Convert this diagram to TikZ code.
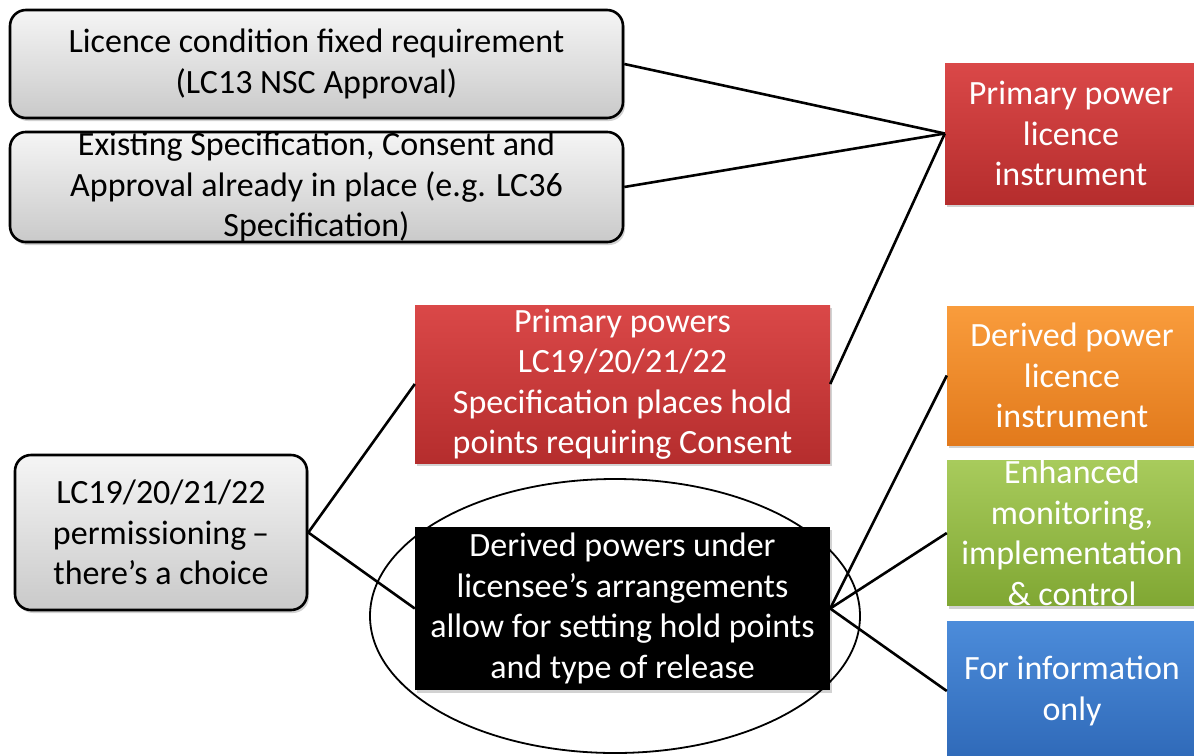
\documentclass[tikz,border=0pt]{standalone}
\usepackage{fontspec}
\setmainfont{Carlito}
\usetikzlibrary{shapes.geometric,shadows}
\definecolor{redtop}{HTML}{DA4848}
\definecolor{redbot}{HTML}{B52D2D}
\definecolor{orgtop}{HTML}{F99C3C}
\definecolor{orgbot}{HTML}{E27A1C}
\definecolor{grntop}{HTML}{A8CB5C}
\definecolor{grnbot}{HTML}{80A733}
\definecolor{blutop}{HTML}{4C8CDA}
\definecolor{blubot}{HTML}{2F69B8}
\newcommand{\nolig}{\kern0pt}
\tikzset{
  txt/.style={align=center, inner sep=0pt, font=\fontsize{34}{40.5}\selectfont},
  greybox/.style={txt, draw=black, line width=2.6pt, rounded corners=16pt,
    top color=gray!8, bottom color=gray!42,
    drop shadow={opacity=0.35, shadow xshift=2pt, shadow yshift=-3pt}},
  colbox/.style={txt, text=white,
    drop shadow={opacity=0.35, shadow xshift=2pt, shadow yshift=-3pt}},
  redbox/.style={colbox, top color=redtop, bottom color=redbot},
  orgbox/.style={colbox, top color=orgtop, bottom color=orgbot},
  grnbox/.style={colbox, top color=grntop, bottom color=grnbot},
  blubox/.style={colbox, top color=blutop, bottom color=blubot},
  blkbox/.style={colbox, fill=black},
  link/.style={line width=2.6pt, draw=black},
}
\begin{document}
\begin{tikzpicture}[x=1pt,y=-1pt]
\useasboundingbox (0,0) rectangle (1194,755);
\clip (0,0) rectangle (1194,755);
\fill[white] (0,0) rectangle (1194,755);
% left column
\node[greybox, minimum width=613pt, minimum height=108pt] (fixed) at (316.5,64)
  {Licence condition fixed requirement\\(LC13 NSC Approval)};
\node[greybox, minimum width=613pt, minimum height=110pt] (exist) at (316.5,187)
  {Existing Specifica\nolig tion, Consent and\\Approval already in place (e.g. LC36\\Specifica\nolig tion)};
\node[greybox, minimum width=292pt, minimum height=155pt] (perm) at (161,532.5)
  {LC19/20/21/22\\permissioning\,--\\there’s a choice};
% middle column
\node[redbox, minimum width=415pt, minimum height=158pt] (ppow) at (622.5,384)
  {Primary powers\\LC19/20/21/22\\Specifica\nolig tion places hold\\points requiring Consent};
\node[blkbox, minimum width=415pt, minimum height=163pt] (dpow) at (622.5,608.5)
  {Derived powers under\\licensee’s arrangements\\allow for setting hold points\\and type of release};
% right column
\node[redbox, minimum width=252pt, minimum height=141pt] (plic) at (1071,133.5)
  {Primary power\\licence\\instrument};
\node[orgbox, minimum width=250pt, minimum height=139pt] (dlic) at (1072,375.5)
  {Derived power\\licence\\instrument};
\node[grnbox, minimum width=250pt, minimum height=140pt] (enh) at (1072,533)
  {Enhanced\\monitoring,\\implementa\nolig tion\\\&\ control};
\node[blubox, minimum width=250pt, minimum height=140pt] (info) at (1072,691)
  {For informa\nolig tion\\only};
% connectors
\draw[link] (fixed.east) -- (plic.west);
\draw[link] (exist.east) -- (plic.west);
\draw[link] (ppow.east) -- (plic.west);
\draw[link] (perm.east) -- (ppow.west);
\draw[link] (perm.east) -- (dpow.west);
\draw[link] (dpow.east) -- (dlic.west);
\draw[link] (dpow.east) -- (enh.west);
\draw[link] (dpow.east) -- (info.west);
% highlight ellipse
\node[ellipse, draw=black, line width=1.8pt, minimum width=490pt, minimum height=274pt] (ring) at (615,616) {};
\end{tikzpicture}
\end{document}
